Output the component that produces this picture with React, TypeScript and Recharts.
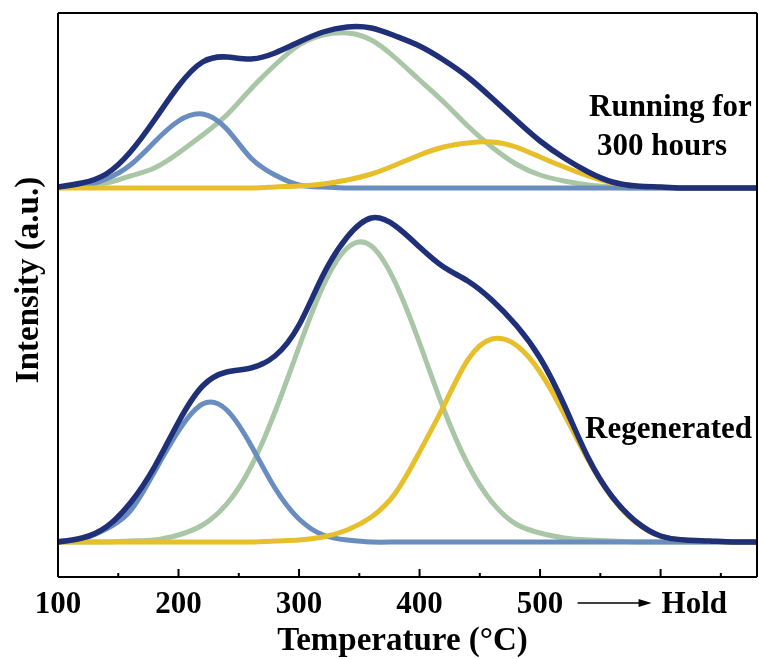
import React from 'react';
import { LineChart, Line, XAxis, YAxis } from 'recharts';

// Temperature grid (°C) — the last points correspond to the "Hold" segment
const temps = [100, 120, 140, 160, 180, 200, 220, 240, 260, 280, 300, 320, 340, 360, 380, 400, 420, 440, 460, 480, 500, 520, 540, 560, 580, 600, 620, 640, 660, 680];

// Regenerated (lower profile), heights above its own baseline (a.u.)
const regenBlue = [1, 3, 13, 31, 70, 111, 138, 132, 97, 54, 23, 7, 2, 0, 0, 0, 0, 0, 0, 0, 0, 0, 0, 0, 0, 0, 0, 0, 0, 0];
const regenGreen = [0, 0, 0, 1, 2, 7, 17, 38, 75, 130, 195, 256, 294, 296, 259, 199, 133, 78, 40, 18, 9, 4, 2, 1, 0, 0, 0, 0, 0, 0];
const regenYellow = [0, 0, 0, 0, 0, 0, 0, 0, 0, 1, 2, 5, 12, 25, 49, 90, 136, 182, 203, 197, 170, 128, 82, 44, 19, 6, 2, 1, 0, 0];
const regenTotal = [0, 4, 15, 39, 75, 120, 156, 170, 174, 186, 217, 267, 305, 324, 316, 295, 275, 261, 242, 217, 184, 137, 84, 45, 20, 6, 2, 1, 0, 0];

// Running for 300 hours (upper profile), heights above its own baseline (a.u.)
const runBlue = [1, 2, 9, 23, 46, 67, 74, 59, 30, 13, 3, 1, 0, 0, 0, 0, 0, 0, 0, 0, 0, 0, 0, 0, 0, 0, 0, 0, 0, 0];
const runGreen = [1, 3, 5, 12, 20, 35, 53, 73, 99, 123, 143, 153, 155, 148, 130, 108, 86, 62, 41, 24, 13, 7, 3, 1, 0, 0, 0, 0, 0, 0];
const runYellow = [0, 0, 0, 0, 0, 0, 0, 0, 0, 1, 2, 4, 8, 14, 23, 33, 41, 45, 46, 41, 31, 21, 12, 5, 2, 1, 0, 0, 0, 0];
const runTotal = [1, 5, 14, 36, 68, 102, 126, 131, 129, 135, 146, 156, 161, 160, 152, 142, 128, 111, 90, 68, 47, 30, 16, 6, 2, 1, 0, 0, 0, 0];

// Vertical offsets of the two stacked profiles
const regenOffset = 35;
const runOffset = 389;

const xTicks = [100, 150, 200, 250, 300, 350, 400, 450, 500, 550, 600, 650];

const data = temps.map((t, i) => ({
  t,
  rb: regenBlue[i] + regenOffset,
  rg: regenGreen[i] + regenOffset,
  ry: regenYellow[i] + regenOffset,
  rt: regenTotal[i] + regenOffset,
  ub: runBlue[i] + runOffset,
  ug: runGreen[i] + runOffset,
  uy: runYellow[i] + runOffset,
  ut: runTotal[i] + runOffset,
}));

const FONT = '"Liberation Serif", "Times New Roman", serif';
const NAVY = '#1f2f78';
const BLUE = '#6a8dc0';
const GREEN = '#a9c6a6';
const YELLOW = '#e6bf2b';

const XTick = (props: any) => {
  const { x, y, payload } = props;
  const v = payload.value;
  const major = v % 100 === 0;
  return (
    <g>
      <line x1={x} x2={x} y1={y} y2={y - (major ? 8 : 4)} stroke="#000" strokeWidth={2} />
      {major && v <= 500 && (
        <text x={x} y={y + 36} textAnchor="middle" fontFamily={FONT} fontWeight="bold" fontSize={31} fill="#000">
          {v}
        </text>
      )}
      {v === 600 && (
        <g>
          <line x1={x - 83} x2={x - 20} y1={y + 26} y2={y + 26} stroke="#000" strokeWidth={1.5} />
          <path d={`M ${x - 22} ${y + 22} L ${x - 9} ${y + 26} L ${x - 22} ${y + 30} Z`} fill="#000" />
          <text x={x + 1} y={y + 36} textAnchor="start" fontFamily={FONT} fontWeight="bold" fontSize={31} fill="#000">
            Hold
          </text>
        </g>
      )}
    </g>
  );
};

const lineProps = { type: 'natural' as const, dot: false, isAnimationActive: false, strokeWidth: 5 };

export default function App() {
  return (
    <div style={{ position: 'fixed', left: 8, top: 8 }}>
      <LineChart width={751} height={651} data={data} margin={{ top: 4, right: 1, bottom: 6, left: 0 }}>
        <XAxis
          dataKey="t"
          type="number"
          domain={[100, 680]}
          ticks={xTicks}
          interval={0}
          allowDataOverflow
          height={76}
          tickSize={0}
          tickMargin={0}
          tickLine={false}
          axisLine={{ stroke: '#000', strokeWidth: 2 }}
          tick={<XTick />}
          label={{
            content: (p: any) => {
              const vb = p.viewBox;
              return (
                <text x={vb.x + vb.width / 2 - 5} y={vb.y + 73} textAnchor="middle" fontFamily={FONT} fontWeight="bold" fontSize={33} fill="#000">
                  Temperature (°C)
                </text>
              );
            },
          }}
        />
        <XAxis xAxisId="top" orientation="top" type="number" domain={[100, 680]} height={1} tick={false} tickLine={false} axisLine={{ stroke: '#000', strokeWidth: 2 }} />
        <YAxis
          type="number"
          domain={[0, 564]}
          allowDataOverflow
          width={50}
          tick={false}
          tickLine={false}
          axisLine={{ stroke: '#000', strokeWidth: 2 }}
          label={{
            content: () => (
              <text x={30} y={272} transform="rotate(-90, 30, 272)" textAnchor="middle" fontFamily={FONT} fontWeight="bold" fontSize={33} fill="#000">
                Intensity (a.u.)
              </text>
            ),
          }}
        />
        <YAxis
          yAxisId="right"
          orientation="right"
          type="number"
          domain={[0, 564]}
          width={1}
          tick={false}
          tickLine={false}
          axisLine={{ stroke: '#000', strokeWidth: 2 }}
          label={{
            content: () => (
              <g fontFamily={FONT} fontWeight="bold" fontSize={31} fill="#000">
                <text x={581} y={108}>Running for</text>
                <text x={589} y={147}>300 hours</text>
                <text x={577} y={430}>Regenerated</text>
              </g>
            ),
          }}
        />
        <Line dataKey="rg" stroke={GREEN} {...lineProps} />
        <Line dataKey="rb" stroke={BLUE} {...lineProps} />
        <Line dataKey="ry" stroke={YELLOW} {...lineProps} />
        <Line dataKey="rt" stroke={NAVY} {...lineProps} strokeWidth={5.5} />
        <Line dataKey="ug" stroke={GREEN} {...lineProps} />
        <Line dataKey="ub" stroke={BLUE} {...lineProps} />
        <Line dataKey="uy" stroke={YELLOW} {...lineProps} />
        <Line dataKey="ut" stroke={NAVY} {...lineProps} strokeWidth={5.5} />
      </LineChart>
    </div>
  );
}
